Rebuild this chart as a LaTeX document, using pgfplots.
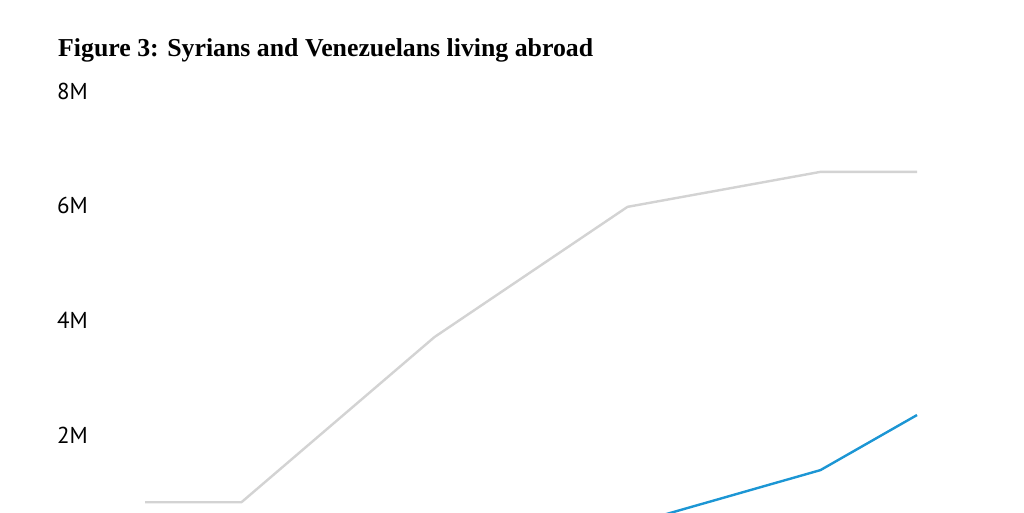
\documentclass[border=0pt]{standalone}
\usepackage{fontspec}
\setmainfont{Liberation Serif}
\newfontfamily\tickfont{PT Sans}
\usepackage{pgfplots}
\pgfplotsset{compat=1.18}

\definecolor{syrgray}{HTML}{D3D3D3}
\definecolor{venblue}{HTML}{1C96D4}

% Syrians abroad (millions), index = year position
\pgfplotstableread{
x  y
0  0.83
1  0.83
3  3.71
5  5.98
7  6.59
8  6.59
}\syria
% Venezuelans abroad (millions)
\pgfplotstableread{
x  y
0  0.28
1  0.30
3  0.34
5  0.43
7  1.39
8  2.35
}\venezuela

\begin{document}
\begin{tikzpicture}[x=1pt,y=1pt]
  \clip (0,0) rectangle (1024,-512);
  \fill[white] (0,0) rectangle (1024,-512);
  \node[anchor=base west, inner sep=0pt, font=\fontsize{25.8}{28}\selectfont\bfseries]
    at (58,-56.7) {Figure 3: Syrians and Venezuelans living abroad};
  \begin{axis}[
      at={(145pt,-91pt)}, anchor=north west,
      scale only axis,
      width=772pt, height=458.8pt,
      xmin=0, xmax=8, ymin=0, ymax=8,
      axis line style={draw=none},
      major tick style={draw=none},
      clip=false,
      ytick={2,4,6,8},
      yticklabels={2M,4M,6M,8M},
      yticklabel style={anchor=west, inner sep=0pt, xshift=-88pt,
        font=\fontsize{23}{26}\selectfont\tickfont},
      xtick=\empty,
    ]
    \addplot[syrgray, line width=2.4pt, line join=round] table[x=x,y=y] {\syria};
    \addplot[venblue, line width=2.4pt, line join=round] table[x=x,y=y] {\venezuela};
  \end{axis}
\end{tikzpicture}
\end{document}
